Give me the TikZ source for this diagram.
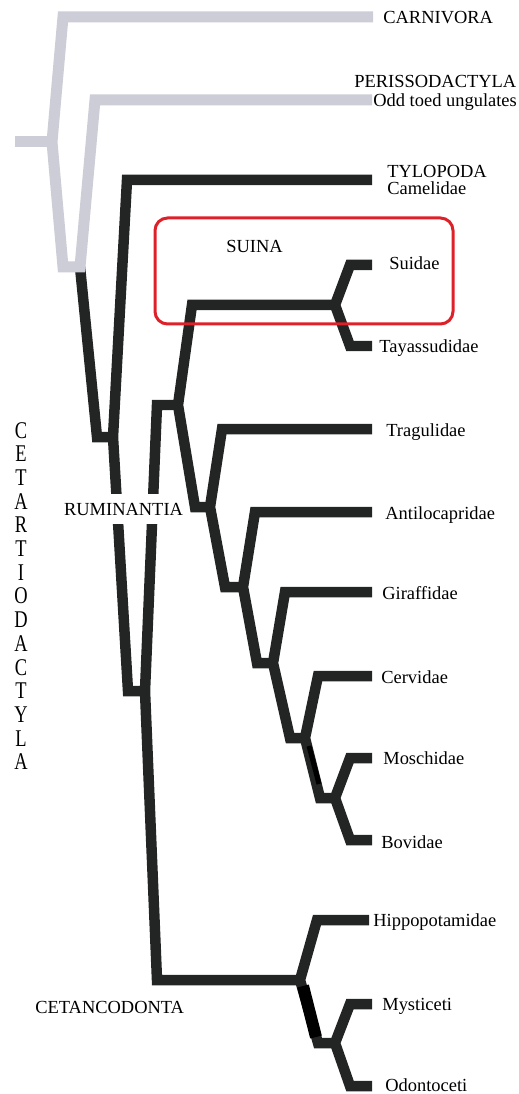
\documentclass[tikz,border=0pt]{standalone}
\usepackage{fontspec}
\setmainfont{Liberation Serif}
\usepackage{xcolor}
\usetikzlibrary{calc}
\definecolor{cladegrey}{RGB}{205,205,215}
\definecolor{cladeblack}{RGB}{35,36,36}
\definecolor{suinared}{RGB}{222,32,40}

\begin{document}
\begin{tikzpicture}[x=0.02cm,y=-0.02cm]
\tikzstyle{outgroup} = [draw=cladegrey, line width=0.22cm, line join=miter]
\tikzstyle{branch} = [draw=cladeblack, line width=0.21cm, line join=miter]
\tikzstyle{taxon} = [anchor=base west, inner sep=0pt, font=\fontsize{10.5}{12}\selectfont]

\useasboundingbox (0,0) rectangle (519,1094);

\coordinate (base) at (15,142);
\coordinate (root) at (52,142);
\coordinate (ungul) at (80,267);
\coordinate (cetart) at (113,437);
\coordinate (artio) at (145,691);
\coordinate (rumsui) at (178,405);
\coordinate (suina) at (335,305);
\coordinate (rumin) at (210,507);
\coordinate (pecora) at (243,587);
\coordinate (pec2) at (273,663);
\coordinate (pec3) at (305,738);
\coordinate (bovmos) at (335,798);
\coordinate (whippo) at (300,980);
\coordinate (cetac) at (335,1043);

\coordinate (carnT) at (373,17);
\coordinate (periT) at (372,100);
\coordinate (tyloT) at (372,180);
\coordinate (suidT) at (372,265);
\coordinate (tayaT) at (372,346);
\coordinate (tragT) at (372,429);
\coordinate (antiT) at (372,512);
\coordinate (giraT) at (372,592);
\coordinate (cervT) at (372,676);
\coordinate (moscT) at (372,758);
\coordinate (boviT) at (372,840);
\coordinate (hippT) at (369,920);
\coordinate (mystT) at (372,1004);
\coordinate (odonT) at (372,1086);

\draw[branch] (ungul) -- (97,437) -- (cetart);
\draw[branch] (tyloT) -- (127,180) -- (cetart) -- (128,691) -- (artio);
\draw[branch] (rumsui) -- (157,405) -- (artio) -- (157,980) -- (whippo);
\draw[branch] (suina) -- (192,305) -- (rumsui) -- (195,507) -- (rumin);
\draw[branch] (suidT) -- (350,265) -- (suina) -- (350,346) -- (tayaT);
\draw[branch] (tragT) -- (222,429) -- (rumin) -- (225,587) -- (pecora);
\draw[branch] (antiT) -- (255,512) -- (pecora) -- (257,663) -- (pec2);
\draw[branch] (giraT) -- (285,592) -- (pec2) -- (290,738) -- (pec3);
\draw[branch] (cervT) -- (318,676) -- (pec3) -- (320,798) -- (bovmos);
\draw[branch] (moscT) -- (350,758) -- (bovmos) -- (350,840) -- (boviT);
\draw[branch] (hippT) -- (317,920) -- (whippo) -- (318,1043) -- (cetac);
\draw[branch] (mystT) -- (350,1004) -- (cetac) -- (350,1086) -- (odonT);
\draw[black, line width=0.24cm] ($(whippo)+(3,6)$) -- ($(cetac)+(-19,-6)$);
\draw[black, line width=0.1cm] ($(pec3)+(4,8)$) -- ($(bovmos)+(-16,-14)$);

\draw[outgroup] (base) -- (root);
\draw[outgroup] (carnT) -- (63,17) -- (root) -- (63,267) -- (ungul) -- (95,100) -- (periT);

\draw[suinared, line width=0.06cm, rounded corners=0.25cm] (155,218) rectangle (453,324);

\node (carn) [taxon] at (383,24) {CARNIVORA};
\node (peri) [taxon] at (354,88) {PERISSODACTYLA};
\node (odd) [taxon] at (373,107) {Odd toed ungulates};
\node (tylo) [taxon] at (387,178) {TYLOPODA};
\node (came) [taxon] at (387,195) {Camelidae};
\node (suin) [taxon] at (226,253) {SUINA};
\node (suid) [taxon] at (389,270) {Suidae};
\node (taya) [taxon] at (379,353) {Tayassudidae};
\node (trag) [taxon] at (386,436) {Tragulidae};
\node (anti) [taxon] at (385,519) {Antilocapridae};
\node (gira) [taxon] at (382,599) {Giraffidae};
\node (cerv) [taxon] at (381,683) {Cervidae};
\node (mosc) [taxon] at (383,764) {Moschidae};
\node (bovi) [taxon] at (381,848) {Bovidae};
\node (hipp) [taxon] at (373,926) {Hippopotamidae};
\node (myst) [taxon] at (382,1010) {Mysticeti};
\node (odon) [taxon] at (385,1091) {Odontoceti};
\node (cetan) [taxon] at (35,1013) {CETANCODONTA};
\node (rumi) [taxon, fill=white, inner ysep=5pt, inner xsep=1pt] at (62,515) {RUMINANTIA};
\foreach \letter [count=\i from 0] in {C,E,T,A,R,T,I,O,D,A,C,T,Y,L,A}
  \node (cetar\i) [taxon, anchor=base] at (21,438+23.7*\i) {\scalebox{1}[1.3]{\letter}};

\end{tikzpicture}
\end{document}
